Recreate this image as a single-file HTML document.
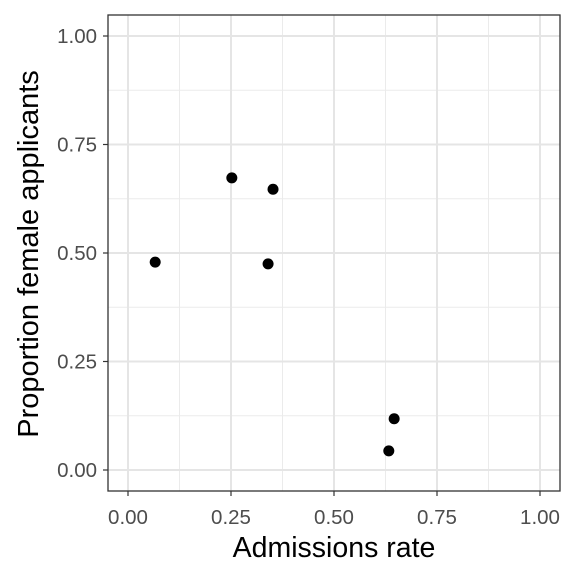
<!DOCTYPE html>
<html><head><meta charset="utf-8"><style>body{margin:0;background:#fff}svg{display:block}text{font-family:"Liberation Sans",sans-serif}</style></head>
<body>
<svg id="chart" width="576" height="576"></svg>
<script>
const xValues=[0.252,0.352,0.066,0.340,0.646,0.633];
const yValues=[0.673,0.647,0.479,0.475,0.118,0.044];
const xTicks=[0,0.25,0.5,0.75,1];
const yTicks=[0,0.25,0.5,0.75,1];
const tickLabels=["0.00","0.25","0.50","0.75","1.00"];
const NS="http://www.w3.org/2000/svg";
const svg=document.getElementById('chart');
const L=108,R=560,T=15,B=491;
const sx=v=>128+v*412;
const sy=v=>470-v*434;
function mk(tag,a,p){const e=document.createElementNS(NS,tag);for(const k in a)e.setAttribute(k,a[k]);(p||svg).appendChild(e);return e;}
const bg=mk('rect',{x:L,y:T,width:R-L,height:B-T,fill:'#fff'});


for(let i=0;i<xTicks.length-1;i++){
 const m=(xTicks[i]+xTicks[i+1])/2;
 const g=mk('line',{x1:sx(m),x2:sx(m),y1:T,y2:B,stroke:'#ebebeb','stroke-width':1});
 
 
 const m2=(yTicks[i]+yTicks[i+1])/2;
 const h=mk('line',{x1:L,x2:R,y1:sy(m2),y2:sy(m2),stroke:'#ebebeb','stroke-width':1});
 
 
}
xTicks.forEach((t,i)=>{
 const g=mk('line',{x1:sx(t),x2:sx(t),y1:T,y2:B,stroke:'#e5e5e5','stroke-width':2});
 
 
 const tk=mk('line',{x1:sx(t),x2:sx(t),y1:B,y2:B+5,stroke:'#333','stroke-width':1.2});
 
 
 const tx=mk('text',{x:sx(t),y:B+33,'text-anchor':'middle','font-size':20.5,fill:'#4d4d4d'});
 tx.textContent=tickLabels[i];
 
 
});
yTicks.forEach((t,i)=>{
 const g=mk('line',{x1:L,x2:R,y1:sy(t),y2:sy(t),stroke:'#e5e5e5','stroke-width':2});
 
 
 const tk=mk('line',{x1:L-5,x2:L,y1:sy(t),y2:sy(t),stroke:'#333','stroke-width':1.2});
 
 
 const tx=mk('text',{x:L-11,y:sy(t)+7,'text-anchor':'end','font-size':20.5,fill:'#4d4d4d'});
 tx.textContent=tickLabels[i];
 
 
});
xValues.forEach((v,i)=>{
 const c=mk('circle',{cx:sx(v),cy:sy(yValues[i]),r:5.5,fill:'#000'});
 
 
});
const border=mk('rect',{x:L,y:T,width:R-L,height:B-T,fill:'none',stroke:'#333','stroke-width':1.3});


const xt=mk('text',{x:334,y:557,'text-anchor':'middle','font-size':28.5,fill:'#000'});
xt.textContent='Admissions rate';


const yt=mk('text',{x:0,y:0,'text-anchor':'middle','font-size':29,fill:'#000',transform:'translate(38,254) rotate(-90)'});
yt.textContent='Proportion female applicants';


</script>
</body></html>
